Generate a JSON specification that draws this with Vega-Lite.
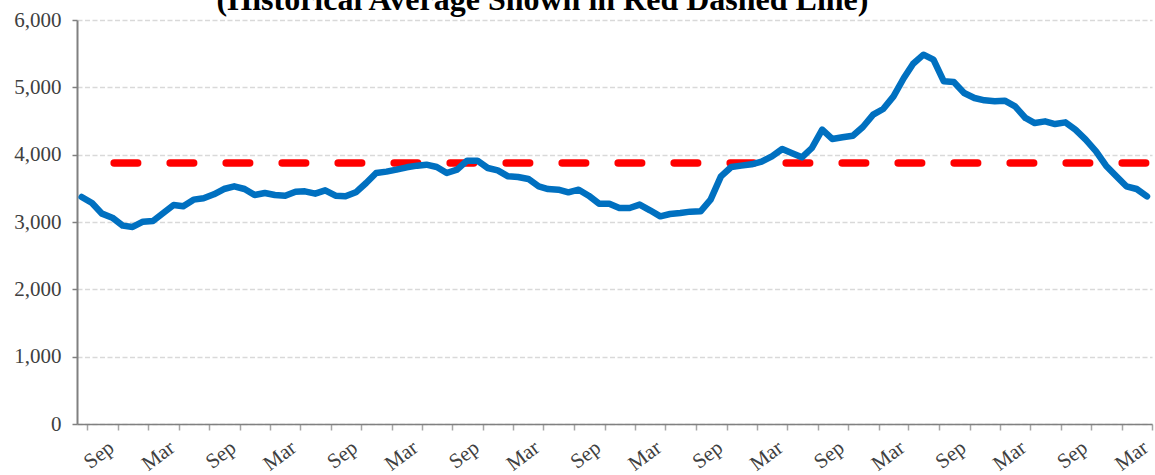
{
  "$schema": "https://vega.github.io/schema/vega-lite/v6.json",
  "width": 1075,
  "height": 404,
  "autosize": {"type": "none"},
  "padding": {"left": 77, "top": 20, "right": 3, "bottom": 51},
  "background": "white",
  "title": {
    "text": "(Historical Average Shown in Red Dashed Line)",
    "font": "Liberation Serif",
    "fontSize": 32,
    "fontWeight": "bold",
    "color": "#000000",
    "anchor": "middle",
    "dx": -72,
    "dy": 40,
    "offset": 0,
    "baseline": "bottom"
  },
  "config": {"view": {"stroke": null}},
  "data": {
    "values": [
      {"date": "2015-05-15", "value": 3371, "avg": 3875},
      {"date": "2015-06-15", "value": 3282, "avg": 3875},
      {"date": "2015-07-15", "value": 3124, "avg": 3875},
      {"date": "2015-08-15", "value": 3064, "avg": 3875},
      {"date": "2015-09-15", "value": 2946, "avg": 3875},
      {"date": "2015-10-15", "value": 2926, "avg": 3875},
      {"date": "2015-11-15", "value": 3005, "avg": 3875},
      {"date": "2015-12-15", "value": 3015, "avg": 3875},
      {"date": "2016-01-15", "value": 3134, "avg": 3875},
      {"date": "2016-02-15", "value": 3253, "avg": 3875},
      {"date": "2016-03-15", "value": 3233, "avg": 3875},
      {"date": "2016-04-15", "value": 3332, "avg": 3875},
      {"date": "2016-05-15", "value": 3352, "avg": 3875},
      {"date": "2016-06-15", "value": 3411, "avg": 3875},
      {"date": "2016-07-15", "value": 3490, "avg": 3875},
      {"date": "2016-08-15", "value": 3530, "avg": 3875},
      {"date": "2016-09-15", "value": 3490, "avg": 3875},
      {"date": "2016-10-15", "value": 3401, "avg": 3875},
      {"date": "2016-11-15", "value": 3431, "avg": 3875},
      {"date": "2016-12-15", "value": 3401, "avg": 3875},
      {"date": "2017-01-15", "value": 3391, "avg": 3875},
      {"date": "2017-02-15", "value": 3450, "avg": 3875},
      {"date": "2017-03-15", "value": 3455, "avg": 3875},
      {"date": "2017-04-15", "value": 3421, "avg": 3875},
      {"date": "2017-05-15", "value": 3470, "avg": 3875},
      {"date": "2017-06-15", "value": 3391, "avg": 3875},
      {"date": "2017-07-15", "value": 3381, "avg": 3875},
      {"date": "2017-08-15", "value": 3441, "avg": 3875},
      {"date": "2017-09-15", "value": 3579, "avg": 3875},
      {"date": "2017-10-15", "value": 3728, "avg": 3875},
      {"date": "2017-11-15", "value": 3748, "avg": 3875},
      {"date": "2017-12-15", "value": 3777, "avg": 3875},
      {"date": "2018-01-15", "value": 3812, "avg": 3875},
      {"date": "2018-02-15", "value": 3837, "avg": 3875},
      {"date": "2018-03-15", "value": 3851, "avg": 3875},
      {"date": "2018-04-15", "value": 3817, "avg": 3875},
      {"date": "2018-05-15", "value": 3728, "avg": 3875},
      {"date": "2018-06-15", "value": 3777, "avg": 3875},
      {"date": "2018-07-15", "value": 3911, "avg": 3875},
      {"date": "2018-08-15", "value": 3911, "avg": 3875},
      {"date": "2018-09-15", "value": 3802, "avg": 3875},
      {"date": "2018-10-15", "value": 3767, "avg": 3875},
      {"date": "2018-11-15", "value": 3678, "avg": 3875},
      {"date": "2018-12-15", "value": 3668, "avg": 3875},
      {"date": "2019-01-15", "value": 3639, "avg": 3875},
      {"date": "2019-02-15", "value": 3530, "avg": 3875},
      {"date": "2019-03-15", "value": 3490, "avg": 3875},
      {"date": "2019-04-15", "value": 3480, "avg": 3875},
      {"date": "2019-05-15", "value": 3441, "avg": 3875},
      {"date": "2019-06-15", "value": 3480, "avg": 3875},
      {"date": "2019-07-15", "value": 3391, "avg": 3875},
      {"date": "2019-08-15", "value": 3272, "avg": 3875},
      {"date": "2019-09-15", "value": 3272, "avg": 3875},
      {"date": "2019-10-15", "value": 3208, "avg": 3875},
      {"date": "2019-11-15", "value": 3208, "avg": 3875},
      {"date": "2019-12-15", "value": 3258, "avg": 3875},
      {"date": "2020-01-15", "value": 3174, "avg": 3875},
      {"date": "2020-02-15", "value": 3084, "avg": 3875},
      {"date": "2020-03-15", "value": 3119, "avg": 3875},
      {"date": "2020-04-15", "value": 3134, "avg": 3875},
      {"date": "2020-05-15", "value": 3154, "avg": 3875},
      {"date": "2020-06-15", "value": 3159, "avg": 3875},
      {"date": "2020-07-15", "value": 3332, "avg": 3875},
      {"date": "2020-08-15", "value": 3678, "avg": 3875},
      {"date": "2020-09-15", "value": 3817, "avg": 3875},
      {"date": "2020-10-15", "value": 3837, "avg": 3875},
      {"date": "2020-11-15", "value": 3857, "avg": 3875},
      {"date": "2020-12-15", "value": 3896, "avg": 3875},
      {"date": "2021-01-15", "value": 3975, "avg": 3875},
      {"date": "2021-02-15", "value": 4084, "avg": 3875},
      {"date": "2021-03-15", "value": 4025, "avg": 3875},
      {"date": "2021-04-15", "value": 3960, "avg": 3875},
      {"date": "2021-05-15", "value": 4099, "avg": 3875},
      {"date": "2021-06-15", "value": 4371, "avg": 3875},
      {"date": "2021-07-15", "value": 4233, "avg": 3875},
      {"date": "2021-08-15", "value": 4258, "avg": 3875},
      {"date": "2021-09-15", "value": 4282, "avg": 3875},
      {"date": "2021-10-15", "value": 4411, "avg": 3875},
      {"date": "2021-11-15", "value": 4594, "avg": 3875},
      {"date": "2021-12-15", "value": 4678, "avg": 3875},
      {"date": "2022-01-15", "value": 4866, "avg": 3875},
      {"date": "2022-02-15", "value": 5139, "avg": 3875},
      {"date": "2022-03-15", "value": 5351, "avg": 3875},
      {"date": "2022-04-15", "value": 5485, "avg": 3875},
      {"date": "2022-05-15", "value": 5411, "avg": 3875},
      {"date": "2022-06-15", "value": 5089, "avg": 3875},
      {"date": "2022-07-15", "value": 5079, "avg": 3875},
      {"date": "2022-08-15", "value": 4916, "avg": 3875},
      {"date": "2022-09-15", "value": 4842, "avg": 3875},
      {"date": "2022-10-15", "value": 4807, "avg": 3875},
      {"date": "2022-11-15", "value": 4792, "avg": 3875},
      {"date": "2022-12-15", "value": 4802, "avg": 3875},
      {"date": "2023-01-15", "value": 4718, "avg": 3875},
      {"date": "2023-02-15", "value": 4545, "avg": 3875},
      {"date": "2023-03-15", "value": 4470, "avg": 3875},
      {"date": "2023-04-15", "value": 4495, "avg": 3875},
      {"date": "2023-05-15", "value": 4455, "avg": 3875},
      {"date": "2023-06-15", "value": 4480, "avg": 3875},
      {"date": "2023-07-15", "value": 4371, "avg": 3875},
      {"date": "2023-08-15", "value": 4223, "avg": 3875},
      {"date": "2023-09-15", "value": 4050, "avg": 3875},
      {"date": "2023-10-15", "value": 3837, "avg": 3875},
      {"date": "2023-11-15", "value": 3679, "avg": 3875},
      {"date": "2023-12-15", "value": 3530, "avg": 3875},
      {"date": "2024-01-15", "value": 3490, "avg": 3875},
      {"date": "2024-02-15", "value": 3381, "avg": 3875}
    ]
  },
  "encoding": {
    "x": {
      "field": "date",
      "type": "temporal",
      "scale": {"domain": [{"year": 2015, "month": 5, "date": 1}, {"year": 2024, "month": 3, "date": 1}]},
      "axis": {
        "title": null,
        "values": [
          {"year": 2015, "month": 6, "date": 1}, {"year": 2015, "month": 9, "date": 1}, {"year": 2015, "month": 12, "date": 1},
          {"year": 2016, "month": 3, "date": 1}, {"year": 2016, "month": 6, "date": 1}, {"year": 2016, "month": 9, "date": 1}, {"year": 2016, "month": 12, "date": 1},
          {"year": 2017, "month": 3, "date": 1}, {"year": 2017, "month": 6, "date": 1}, {"year": 2017, "month": 9, "date": 1}, {"year": 2017, "month": 12, "date": 1},
          {"year": 2018, "month": 3, "date": 1}, {"year": 2018, "month": 6, "date": 1}, {"year": 2018, "month": 9, "date": 1}, {"year": 2018, "month": 12, "date": 1},
          {"year": 2019, "month": 3, "date": 1}, {"year": 2019, "month": 6, "date": 1}, {"year": 2019, "month": 9, "date": 1}, {"year": 2019, "month": 12, "date": 1},
          {"year": 2020, "month": 3, "date": 1}, {"year": 2020, "month": 6, "date": 1}, {"year": 2020, "month": 9, "date": 1}, {"year": 2020, "month": 12, "date": 1},
          {"year": 2021, "month": 3, "date": 1}, {"year": 2021, "month": 6, "date": 1}, {"year": 2021, "month": 9, "date": 1}, {"year": 2021, "month": 12, "date": 1},
          {"year": 2022, "month": 3, "date": 1}, {"year": 2022, "month": 6, "date": 1}, {"year": 2022, "month": 9, "date": 1}, {"year": 2022, "month": 12, "date": 1},
          {"year": 2023, "month": 3, "date": 1}, {"year": 2023, "month": 6, "date": 1}, {"year": 2023, "month": 9, "date": 1}, {"year": 2023, "month": 12, "date": 1},
          {"year": 2024, "month": 3, "date": 1}
        ],
        "labelExpr": "month(datum.value) == 8 ? 'Sep' : (month(datum.value) == 2 ? 'Mar' : '')",
        "labelAngle": -37,
        "labelAlign": "right",
        "labelBaseline": "alphabetic",
        "labelOffset": -3,
        "labelFont": "Liberation Serif",
        "labelFontSize": 21,
        "labelColor": "#404040",
        "labelPadding": 20,
        "labelOverlap": false,
        "labelBound": false,
        "labelFlush": false,
        "domainColor": "#808080",
        "domainWidth": 1.5,
        "tickColor": "#a6a6a6",
        "tickSize": 6,
        "tickWidth": 1.5,
        "grid": false
      }
    }
  },
  "layer": [
    {
      "mark": {"type": "line", "color": "#FF0000", "strokeWidth": 7.5, "strokeCap": "round", "strokeDash": [23.5, 32.5], "strokeDashOffset": 23.5},
      "encoding": {
        "y": {
          "field": "avg",
          "type": "quantitative",
          "scale": {"domain": [0, 6000]},
          "axis": {
            "title": null,
            "values": [0, 1000, 2000, 3000, 4000, 5000, 6000],
            "format": ",.0f",
            "labelFont": "Liberation Serif",
            "labelFontSize": 21,
            "labelColor": "#404040",
            "labelPadding": 11,
            "domainColor": "#808080",
            "domainWidth": 2,
            "tickColor": "#808080",
            "tickSize": 5,
            "tickWidth": 1.5,
            "grid": true,
            "gridColor": "#d9d9d9",
            "gridDash": [5, 2.5],
            "gridWidth": 1.5
          }
        }
      }
    },
    {
      "mark": {"type": "line", "color": "#0070C0", "strokeWidth": 6.5, "strokeCap": "round", "strokeJoin": "round"},
      "encoding": {
        "y": {
          "field": "value",
          "type": "quantitative",
          "scale": {"domain": [0, 6000]},
          "axis": {
            "title": null,
            "values": [0, 1000, 2000, 3000, 4000, 5000, 6000],
            "format": ",.0f",
            "labelFont": "Liberation Serif",
            "labelFontSize": 21,
            "labelColor": "#404040",
            "labelPadding": 11,
            "domainColor": "#808080",
            "domainWidth": 2,
            "tickColor": "#808080",
            "tickSize": 5,
            "tickWidth": 1.5,
            "grid": true,
            "gridColor": "#d9d9d9",
            "gridDash": [5, 2.5],
            "gridWidth": 1.5
          }
        }
      }
    }
  ]
}
